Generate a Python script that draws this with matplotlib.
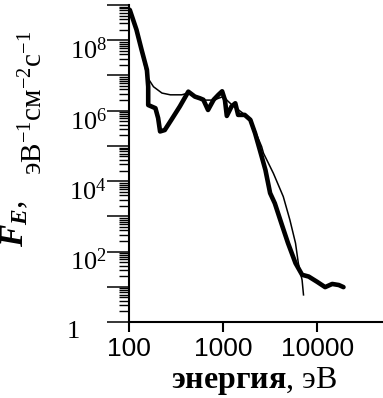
import matplotlib
matplotlib.use("Agg")
import matplotlib.pyplot as plt
import matplotlib.ticker as mticker
from matplotlib.transforms import ScaledTranslation
import numpy as np

# measured spectrum (thick line): energy in eV, log10 of flux
meas_energy = [102, 120, 136, 155, 160, 160, 191, 204, 214, 240, 282, 347, 427,
               501, 569, 617, 692, 794, 891, 977, 1047, 1096, 1230, 1349, 1445,
               1698, 1950, 2188, 2455, 2818, 3162, 3548, 4169, 4898, 5888, 6918,
               8128, 10000, 12160, 14450, 16980, 19050]
meas_logf = [8.86, 8.30, 7.73, 7.16, 6.68, 6.16, 6.07, 5.79, 5.41, 5.45, 5.74, 6.12, 6.54,
             6.40, 6.35, 6.31, 6.02, 6.31, 6.45, 6.55, 6.30, 5.85, 6.12, 6.21, 5.88,
             5.88, 5.74, 5.36, 4.89, 4.32, 3.66, 3.37, 2.80, 2.24, 1.67, 1.34,
             1.29, 1.14, 0.99, 1.08, 1.05, 0.99]

# model spectrum (thin line)
model_energy = [102, 120, 136, 155, 182, 224, 275, 363, 427, 501, 631, 794, 1000,
                1259, 1585, 1995, 2291, 2570, 2692, 3428, 4365, 5129, 5888, 6310,
                6918, 7161]
model_logf = [8.90, 8.30, 7.73, 6.97, 6.68, 6.50, 6.45, 6.45, 6.50, 6.42, 6.30, 6.30, 6.40,
              6.15, 5.95, 5.70, 5.30, 4.98, 4.79, 4.22, 3.56, 2.90, 2.24, 1.67,
              1.19, 0.77]

plt.rcParams['mathtext.fontset'] = 'custom'
plt.rcParams['mathtext.rm'] = 'Liberation Serif'
plt.rcParams['mathtext.it'] = 'Liberation Serif:italic'
plt.rcParams['mathtext.bf'] = 'Liberation Serif:bold'
plt.rcParams['mathtext.sf'] = 'Liberation Serif:bold:italic'

fig = plt.figure(figsize=(3.83, 3.98), dpi=100)
ax = fig.add_axes([129 / 383, 1 - 322 / 398, 1 - 129 / 383, 317 / 398])

ax.plot(meas_energy, 10.0 ** np.array(meas_logf), color='black', lw=3.3,
        solid_joinstyle='round', solid_capstyle='round')
ax.plot(model_energy, 10.0 ** np.array(model_logf), color='black', lw=1.1)

ax.set_xscale('log')
ax.set_yscale('log')
ax.set_xlim(100, 10 ** 4.70)
ax.set_ylim(1, 1e9)

for side in ('top', 'right'):
    ax.spines[side].set_visible(False)
for side in ('left', 'bottom'):
    ax.spines[side].set_linewidth(1.5)

ax.xaxis.set_major_locator(mticker.FixedLocator([100, 1000, 10000]))
ax.xaxis.set_major_formatter(mticker.FixedFormatter(['100', '1000', '10000']))
ax.xaxis.set_minor_locator(mticker.NullLocator())

ax.yaxis.set_major_locator(mticker.FixedLocator([10.0 ** k for k in range(10)]))
ax.yaxis.set_minor_locator(mticker.LogLocator(base=10, subs=np.arange(2, 10), numticks=20))


def ylab(v, pos):
    k = int(round(np.log10(v)))
    if k == 0:
        return '1    '
    if k % 2 == 0 and k < 9:
        return r'$10^{%d}$' % k
    return ''


ax.yaxis.set_major_formatter(mticker.FuncFormatter(ylab))
ax.yaxis.set_minor_formatter(mticker.NullFormatter())

ax.tick_params(axis='y', which='major', direction='out', length=15.5, width=1.1,
               pad=0.5, labelsize=19)
ax.tick_params(axis='y', which='minor', direction='out', length=7, width=1.0)
ax.tick_params(axis='x', which='major', direction='out', length=7, width=1.5,
               pad=4, labelsize=19)

for lbl in ax.get_xticklabels():
    lbl.set_fontfamily('Liberation Sans')
for lbl in ax.get_yticklabels():
    lbl.set_fontfamily('Liberation Serif')

shift = ScaledTranslation(0, -8 / 100, fig.dpi_scale_trans)
for t in ax.yaxis.get_major_ticks():
    t.label1.set_transform(t.label1.get_transform() + shift)

fig.text(15 / 383, 1 - 223 / 398, r'$\mathsf{F}_{\mathsf{E}}$,', rotation=90,
         ha='center', va='center', fontsize=24, family='Liberation Serif')
fig.text(34 / 383, 1 - 103 / 398, r'эВ$^{-1}$см$^{-2}$с$^{-1}$', rotation=90,
         ha='center', va='center', fontsize=21, family='Liberation Serif')
fig.text(254 / 383, 1 - 381 / 398, r'$\mathbf{энергия}$, эВ',
         ha='center', va='center', fontsize=23, family='Liberation Serif')

fig.savefig('out.png', dpi=100)
